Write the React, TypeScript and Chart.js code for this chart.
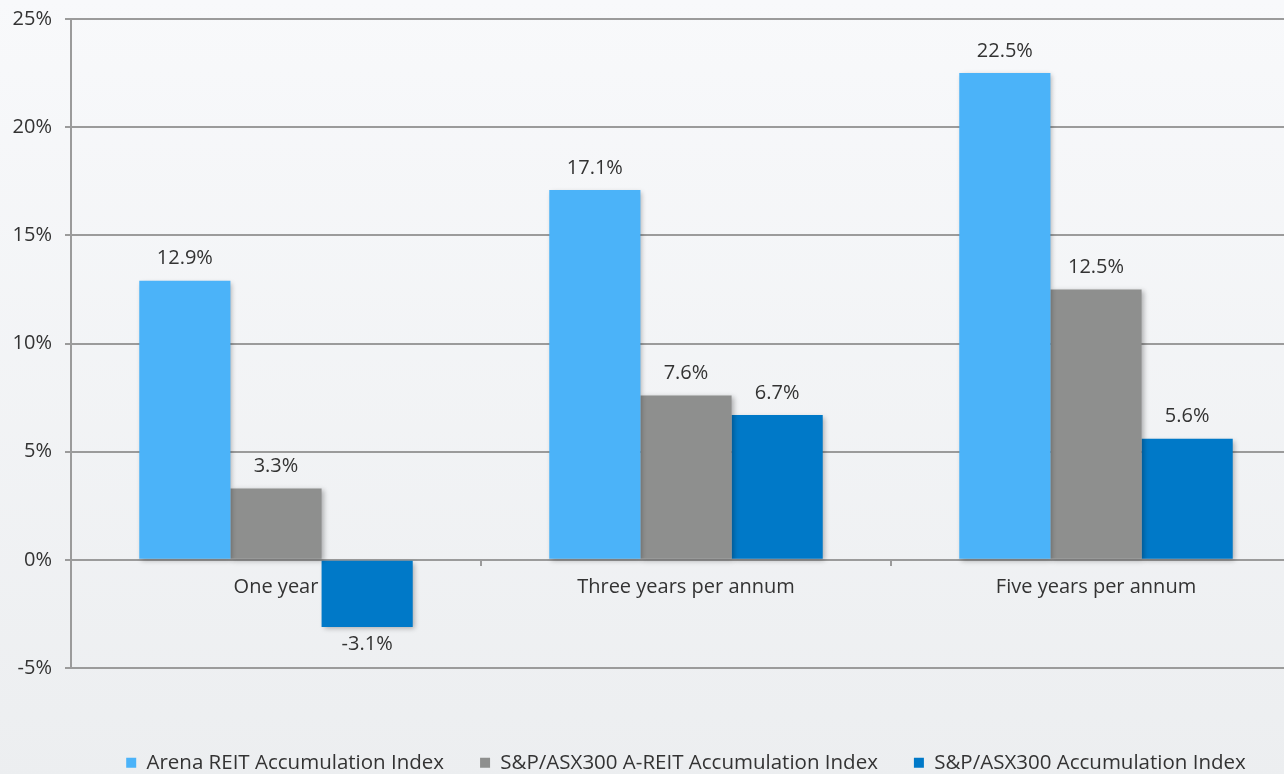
import React, { useEffect, useRef } from 'react';
import { Chart, registerables } from 'chart.js';

Chart.register(...registerables);

const categories = ['One year', 'Three years per annum', 'Five years per annum'];
const seriesNames = [
  'Arena REIT Accumulation Index',
  'S&P/ASX300 A-REIT Accumulation Index',
  'S&P/ASX300 Accumulation Index',
];
const arenaValues = [12.9, 17.1, 22.5];
const areitValues = [3.3, 7.6, 12.5];
const asxValues = [-3.1, 6.7, 5.6];
const yTicks = [-5, 0, 5, 10, 15, 20, 25];
const seriesColors = ['#4BB3F9', '#8E8F8E', '#0079C8'];

const FONT = '"Open Sans", Lato, sans-serif';
const TEXT = '#333333';
const GRID = '#9b9b9b';

const bgPlugin = {
  id: 'bgFill',
  beforeDraw(chart: any) {
    const { ctx, width, height } = chart;
    const g = ctx.createLinearGradient(0, 0, 0, height);
    g.addColorStop(0, '#f8f9fb');
    g.addColorStop(1, '#eceef0');
    ctx.save();
    ctx.fillStyle = g;
    ctx.fillRect(0, 0, width, height);
    ctx.restore();
  },
};

const shadowPlugin = {
  id: 'barShadow',
  beforeDatasetsDraw(chart: any) {
    const ctx = chart.ctx;
    ctx.save();
    ctx.shadowColor = 'rgba(0,0,0,0.28)';
    ctx.shadowBlur = 5;
    ctx.shadowOffsetX = 2;
    ctx.shadowOffsetY = 2;
  },
  afterDatasetsDraw(chart: any) {
    chart.ctx.restore();
  },
};

const valueLabelPlugin = {
  id: 'valueLabels',
  afterDatasetsDraw(chart: any) {
    const ctx = chart.ctx;
    ctx.save();
    ctx.font = `20px ${FONT}`;
    ctx.fillStyle = TEXT;
    ctx.textAlign = 'center';
    chart.data.datasets.forEach((ds: any, di: number) => {
      const meta = chart.getDatasetMeta(di);
      meta.data.forEach((bar: any, i: number) => {
        const v = ds.data[i];
        const label = v.toFixed(1) + '%';
        if (v >= 0) {
          ctx.textBaseline = 'bottom';
          ctx.fillText(label, bar.x, bar.y - 12);
        } else {
          ctx.textBaseline = 'top';
          ctx.fillText(label, bar.x, bar.y + 7);
        }
      });
    });
    ctx.restore();
  },
};

export default function App() {
  const canvasRef = useRef<HTMLCanvasElement | null>(null);

  useEffect(() => {
    if (!canvasRef.current) return;
    const values = [arenaValues, areitValues, asxValues];
    const chart = new Chart(canvasRef.current, {
      type: 'bar',
      data: {
        labels: categories,
        datasets: seriesNames.map((name, i) => ({
          label: name,
          data: values[i],
          backgroundColor: seriesColors[i],
          borderWidth: 0,
          categoryPercentage: 0.667,
          barPercentage: 1.0,
        })),
      },
      options: {
        animation: false,
        responsive: false,
        maintainAspectRatio: false,
        devicePixelRatio: 1,
        layout: { padding: { left: 13, right: 3, top: 19, bottom: 0 } },
        plugins: {
          legend: {
            position: 'bottom',
            fullSize: false,
            title: {
              display: true,
              text: '',
              font: { size: 10 },
              padding: { top: 36.5, bottom: 0 },
            },
            labels: {
              boxWidth: 10,
              boxHeight: 10,
              padding: 36,
              color: TEXT,
              font: { family: FONT, size: 20.5 },
            },
          },
          tooltip: { enabled: false },
        },
        scales: {
          x: {
            position: { y: 0 } as any,
            grid: {
              drawOnChartArea: false,
              drawTicks: true,
              tickLength: 6,
              color: GRID,
              lineWidth: 2,
              offset: true,
            },
            border: { display: false },
            ticks: {
              color: TEXT,
              font: { family: FONT, size: 20 },
              padding: 9,
              maxRotation: 0,
            },
          },
          y: {
            min: -5,
            max: 25,
            afterBuildTicks: (s: any) => {
              s.ticks = yTicks.map((v) => ({ value: v }));
            },
            grid: {
              color: GRID,
              lineWidth: 2,
              tickLength: 6,
            },
            border: { display: true, color: GRID, width: 2 },
            ticks: {
              color: TEXT,
              font: { family: FONT, size: 20 },
              padding: 13,
              callback: (v: any) => `${v}%`,
            },
            afterFit: (s: any) => {
              s.width = 58;
              s.paddingTop = 0;
            },
          },
        },
      },
      plugins: [bgPlugin, shadowPlugin, valueLabelPlugin],
    });
    return () => chart.destroy();
  }, []);

  return (
    <div style={{ position: 'fixed', left: 0, top: 0, width: 1304, height: 783 }}>
      <canvas ref={canvasRef} width={1304} height={783} style={{ width: 1304, height: 783, display: 'block' }} />
    </div>
  );
}
